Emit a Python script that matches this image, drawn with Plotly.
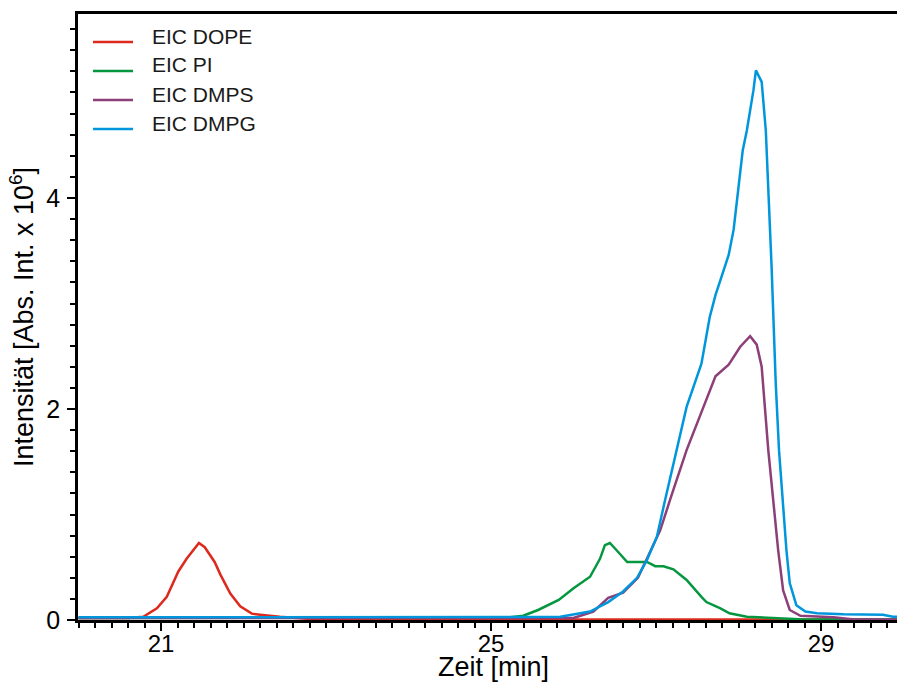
import plotly.graph_objects as go

# ---------------- data ----------------
dope_x = [20.0, 20.6, 20.785, 20.95, 21.07, 21.21, 21.31, 21.46, 21.53, 21.65, 21.72, 21.84,
          21.96, 22.10, 22.20, 22.44, 22.8, 24.0, 26.0, 28.0, 30.0]
dope_y = [0.02, 0.02, 0.03, 0.11, 0.22, 0.46, 0.58, 0.73, 0.69, 0.55, 0.43, 0.25,
          0.13, 0.06, 0.05, 0.03, 0.01, 0.005, 0.005, 0.005, 0.005]

pi_x = [20.0, 24.87, 25.23, 25.39, 25.57, 25.82, 26.0, 26.2, 26.32, 26.38, 26.44, 26.50,
        26.65, 26.81, 26.89, 26.99, 27.09, 27.21, 27.37, 27.55, 27.61, 27.78, 27.89,
        28.10, 28.54, 28.8, 30.0]
pi_y = [0.02, 0.025, 0.025, 0.04, 0.095, 0.19, 0.30, 0.41, 0.58, 0.71, 0.73, 0.68,
        0.55, 0.55, 0.55, 0.51, 0.51, 0.48, 0.38, 0.22, 0.17, 0.11, 0.063,
        0.03, 0.016, 0.005, 0.005]

dmps_x = [20.0, 25.5, 26.0, 26.24, 26.42, 26.6, 26.78, 26.90, 27.05, 27.17, 27.37, 27.53,
          27.72, 27.88, 28.02, 28.14, 28.22, 28.28, 28.32, 28.36, 28.48, 28.54, 28.62,
          28.75, 29.15, 29.4, 30.0]
dmps_y = [0.02, 0.02, 0.02, 0.08, 0.21, 0.26, 0.40, 0.60, 0.85, 1.14, 1.61, 1.93,
          2.31, 2.42, 2.59, 2.69, 2.61, 2.40, 1.99, 1.61, 0.66, 0.28, 0.095,
          0.04, 0.025, 0.005, 0.005]

dmpg_x = [20.0, 25.5, 25.84, 26.2, 26.42, 26.60, 26.77, 26.89, 27.01, 27.11, 27.25, 27.37,
          27.55, 27.65, 27.72, 27.88, 27.94, 28.00, 28.05, 28.10, 28.18, 28.21, 28.28,
          28.33, 28.36, 28.40, 28.45, 28.49, 28.58, 28.62, 28.70, 28.81, 28.95, 29.27,
          29.75, 29.87, 30.0]
dmpg_y = [0.025, 0.025, 0.03, 0.08, 0.17, 0.27, 0.40, 0.57, 0.79, 1.14, 1.61, 2.02,
          2.43, 2.87, 3.08, 3.46, 3.70, 4.14, 4.45, 4.64, 5.02, 5.21, 5.10,
          4.64, 4.14, 3.35, 2.25, 1.61, 0.66, 0.35, 0.14, 0.08, 0.064, 0.054,
          0.05, 0.03, 0.03]

series_names = ["EIC DOPE", "EIC PI", "EIC DMPS", "EIC DMPG"]
x_tick_vals = [21, 25, 29]
y_tick_vals = [0, 2, 4]

# ---------------- styling ----------------
colors = ["#dc2a1e", "#05973f", "#8c3f78", "#0096dc"]
FONT = "Arial, 'Liberation Sans', sans-serif"

fig = go.Figure()
for name, xs, ys, c in zip(series_names, [dope_x, pi_x, dmps_x, dmpg_x],
                           [dope_y, pi_y, dmps_y, dmpg_y], colors):
    fig.add_trace(go.Scatter(x=xs, y=ys, mode="lines", name=name,
                             line=dict(color=c, width=2.5), showlegend=False))

# plot area geometry in pixels
L, R, T, B = 78, 897, 14, 620
W, H = R - L, B - T

def px(xp):
    return (xp - L) / W

def py(yp):
    return (B - yp) / H

line_y = [42, 71, 100, 129]
for name, c, ly in zip(series_names, colors, line_y):
    fig.add_shape(type="line", xref="paper", yref="paper",
                  x0=px(93), x1=px(133), y0=py(ly), y1=py(ly),
                  line=dict(color=c, width=2.5))
    fig.add_annotation(xref="paper", yref="paper", x=px(150), y=py(ly - 6),
                       text=name, showarrow=False, xanchor="left", yanchor="middle",
                       font=dict(family=FONT, size=21, color="#1a1a1a"))

# x-axis title
fig.add_annotation(xref="paper", yref="paper", x=px(493), y=py(667),
                   text="Zeit [min]", showarrow=False, xanchor="center", yanchor="middle",
                   font=dict(family=FONT, size=27, color="black"))

fig.update_layout(
    width=897, height=684,
    margin=dict(l=L, r=0, t=T, b=684 - B),
    paper_bgcolor="white", plot_bgcolor="white",
    font=dict(family=FONT, color="black"),
    showlegend=False,
)
fig.update_xaxes(
    range=[19.994, 29.92], showgrid=False, zeroline=False,
    showline=True, linecolor="black", linewidth=2.5, mirror=True,
    tickmode="array", tickvals=x_tick_vals, ticktext=[str(v) for v in x_tick_vals],
    ticks="outside", ticklen=8, tickwidth=2, tickcolor="black", ticklabelstandoff=-8,
    tickfont=dict(size=24, family=FONT, color="black"),
    minor=dict(dtick=0.2, tick0=21, ticks="outside", ticklen=5, tickwidth=2, tickcolor="black"),
)
fig.update_yaxes(
    range=[0, 5.744], showgrid=False, zeroline=False,
    showline=True, linecolor="black", linewidth=2.5, mirror=False,
    tickmode="array", tickvals=y_tick_vals, ticktext=[str(v) for v in y_tick_vals],
    ticks="outside", ticklen=8, tickwidth=2, tickcolor="black", ticklabelstandoff=2,
    tickfont=dict(size=25, family=FONT, color="black"),
    minor=dict(dtick=0.2, tick0=0, ticks="outside", ticklen=5, tickwidth=2, tickcolor="black"),
    title=dict(text="Intensität [Abs. Int. x 10<sup>6</sup>]",
               font=dict(size=27, family=FONT, color="black"), standoff=5),
)

fig.write_html(
    "out.html",
    config={"displayModeBar": False},
    post_script="document.body.style.margin='0';document.body.style.overflow='hidden';"
                "document.documentElement.style.overflow='hidden';",
)
